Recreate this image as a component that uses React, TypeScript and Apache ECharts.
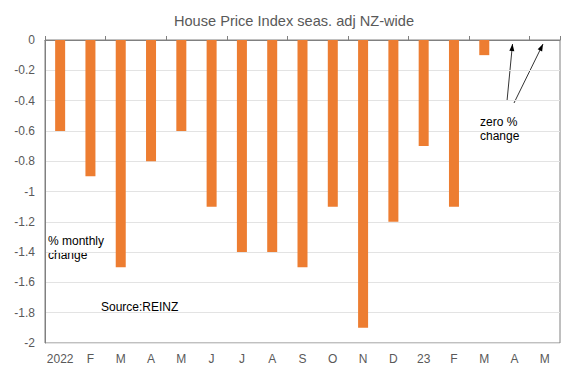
import React, { useEffect, useRef } from "react";
import * as echarts from "echarts";

const categories = ["2022", "F", "M", "A", "M", "J", "J", "A", "S", "O", "N", "D", "23", "F", "M", "A", "M"];
const monthlyChange = [-0.6, -0.9, -1.5, -0.8, -0.6, -1.1, -1.4, -1.4, -1.5, -1.1, -1.9, -1.2, -0.7, -1.1, -0.1, null, null];
const yTicks = [0, -0.2, -0.4, -0.6, -0.8, -1, -1.2, -1.4, -1.6, -1.8, -2];

function arrowHead(x1: number, y1: number, x2: number, y2: number) {
  const ang = Math.atan2(y2 - y1, x2 - x1);
  const len = 7, w = 2.5;
  const bx = x2 - len * Math.cos(ang), by = y2 - len * Math.sin(ang);
  const px = -Math.sin(ang) * w, py = Math.cos(ang) * w;
  return [[x2, y2], [bx + px, by + py], [bx - px, by - py]];
}

export default function App() {
  const ref = useRef<HTMLDivElement>(null);
  useEffect(() => {
    const chart = echarts.init(ref.current!, undefined, { renderer: "svg" });
    const font = "Liberation Sans, Arial, sans-serif";
    const arrows = [
      [507, 101, 512.5, 44],
      [514, 103, 543, 44],
    ];
    const graphics: any[] = [];
    arrows.forEach(([x1, y1, x2, y2]) => {
      graphics.push({ type: "line", shape: { x1, y1, x2, y2 }, style: { stroke: "#000", lineWidth: 0.8 } });
      graphics.push({ type: "polygon", shape: { points: arrowHead(x1, y1, x2, y2) }, style: { fill: "#000" } });
    });
    graphics.push(
      { type: "text", left: 48, top: 234, style: { text: "% monthly\nchange", font: `12px ${font}`, fill: "#000", lineHeight: 14 } },
      { type: "text", left: 101, top: 301, style: { text: "Source:REINZ", font: `12px ${font}`, fill: "#000" } },
      { type: "text", left: 480, top: 115, style: { text: "zero %\nchange", font: `12px ${font}`, fill: "#000", lineHeight: 14 } }
    );
    chart.setOption({
      animation: false,
      title: {
        text: "House Price Index seas. adj NZ-wide",
        left: 289,
        textAlign: "center",
        top: 8,
        textStyle: { fontFamily: font, fontSize: 14.6, fontWeight: "normal", color: "#595959" },
      },
      grid: { left: 45, right: 12, top: 40, bottom: 34, show: true, borderColor: "#808080", borderWidth: 1 },
      xAxis: [
        {
          type: "category",
          data: categories,
          position: "bottom",
          axisLine: { show: false, onZero: false },
          axisTick: { show: false },
          axisLabel: { interval: 0, fontFamily: font, fontSize: 12, color: "#595959", margin: 10 },
        },
        {
          type: "category",
          data: categories,
          position: "top",
          axisLine: { show: true, onZero: false, lineStyle: { color: "#808080" } },
          axisTick: { show: true, length: 4, lineStyle: { color: "#808080" } },
          axisLabel: { show: false },
        },
      ],
      yAxis: {
        type: "value",
        min: -2,
        max: 0,
        interval: 0.2,
        axisLine: { show: true, lineStyle: { color: "#808080" } },
        axisTick: { show: false },
        splitLine: { lineStyle: { color: "#e3e3e3" } },
        axisLabel: {
          fontFamily: font,
          fontSize: 12,
          color: "#595959",
          margin: 10,
          formatter: (v: number) => {
            const t = yTicks.find((k) => Math.abs(k - v) < 1e-6);
            return t === undefined ? "" : String(t);
          },
        },
      },
      series: [
        {
          type: "bar",
          data: monthlyChange,
          barWidth: 10,
          itemStyle: { color: "#ED7D31" },
        },
      ],
      graphic: graphics,
    });
    return () => chart.dispose();
  }, []);
  return <div ref={ref} style={{ width: 572, height: 377, position: "absolute", left: 0, top: 0 }} />;
}
